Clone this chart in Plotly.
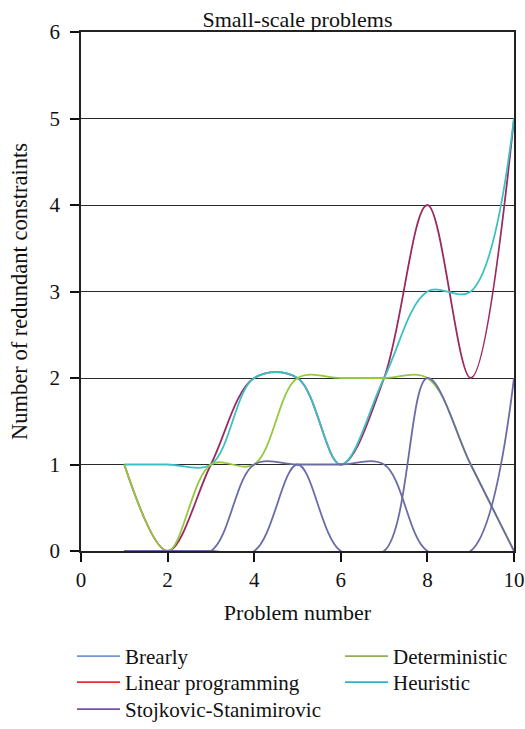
import plotly.graph_objects as go

problems = [1, 2, 3, 4, 5, 6, 7, 8, 9, 10]
brearly = [0, 0, 0, 1, 1, 1, 1, 0, 0, 2]
linear_programming = [1, 0, 1, 2, 2, 1, 2, 4, 2, 5]
stojkovic = [0, 0, 0, 0, 1, 0, 0, 2, 1, 0]
deterministic = [1, 0, 1, 1, 2, 2, 2, 2, 1, 0]
heuristic = [1, 1, 1, 2, 2, 1, 2, 3, 3, 5]

FONT = "Liberation Serif"
FS = 21

fig = go.Figure()

plot_series = [
    ("Linear programming", linear_programming, "#9c2a5e"),
    ("Heuristic", heuristic, "#3cc0c8"),
    ("Deterministic", deterministic, "#93c83f"),
    ("Brearly", brearly, "#6b6ba8"),
    ("Stojkovic-Stanimirovic", stojkovic, "#6b6ba8"),
]
for name, vals, col in plot_series:
    fig.add_trace(go.Scatter(
        x=problems, y=vals, mode="lines", name=name,
        line=dict(color=col, width=1.8, shape="spline", smoothing=1.0),
        showlegend=False, hoverinfo="skip"))

# legend entries: (name, colour, legend id, column left px, row top px)
legend_series = [
    ("Brearly", "#7097d0", "legend", 72, 636),
    ("Linear programming", "#e5322f", "legend2", 72, 662),
    ("Stojkovic-Stanimirovic", "#7a4fb0", "legend3", 72, 689),
    ("Deterministic", "#8fae55", "legend4", 340, 636),
    ("Heuristic", "#2fb1d6", "legend5", 340, 662),
]
PL, PR, PT, PB = 81, 514, 32, 551
legend_layout = {}
for name, col, lg, lx, ly in legend_series:
    fig.add_trace(go.Scatter(
        x=[None], y=[None], mode="lines", name=name,
        line=dict(color=col, width=1.8), legend=lg, showlegend=True))
    legend_layout[lg] = dict(
        x=(lx - PL) / (PR - PL), y=(PB - ly) / (PB - PT),
        xanchor="left", yanchor="top", orientation="v",
        bgcolor="rgba(0,0,0,0)", font=dict(family=FONT, size=FS, color="#111"),
        itemwidth=43)

fig.update_layout(
    width=525, height=729,
    margin=dict(l=PL, r=525 - PR, t=PT, b=729 - PB, autoexpand=False),
    paper_bgcolor="white", plot_bgcolor="white",
    font=dict(family=FONT, size=FS, color="#111"),
    title=dict(text="Small-scale problems", x=0.5, xref="paper",
               y=1 - 19 / 729, yref="container", yanchor="middle",
               font=dict(family=FONT, size=22, color="#111")),
    xaxis=dict(range=[0, 10], dtick=2, tick0=0, ticks="outside", ticklen=9,
               tickwidth=1.5, tickcolor="#111", showgrid=False, zeroline=False,
               showline=True, linecolor="#222", linewidth=1.5, mirror=True,
               title=dict(text="Problem number", standoff=14,
                          font=dict(family=FONT, size=22, color="#111")),
               tickfont=dict(family=FONT, size=FS)),
    yaxis=dict(range=[0, 6], dtick=1, tick0=0, ticks="outside", ticklen=9,
               tickwidth=1.5, tickcolor="#111", showgrid=True,
               gridcolor="#2a2a2a", gridwidth=1.2, zeroline=False,
               showline=True, linecolor="#222", linewidth=1.5, mirror=True,
               ticklabelstandoff=6,
               title=dict(text="Number of redundant constraints", standoff=16,
                          font=dict(family=FONT, size=22.5, color="#111")),
               tickfont=dict(family=FONT, size=FS)),
    **legend_layout,
)

fig.write_html("out.html")
